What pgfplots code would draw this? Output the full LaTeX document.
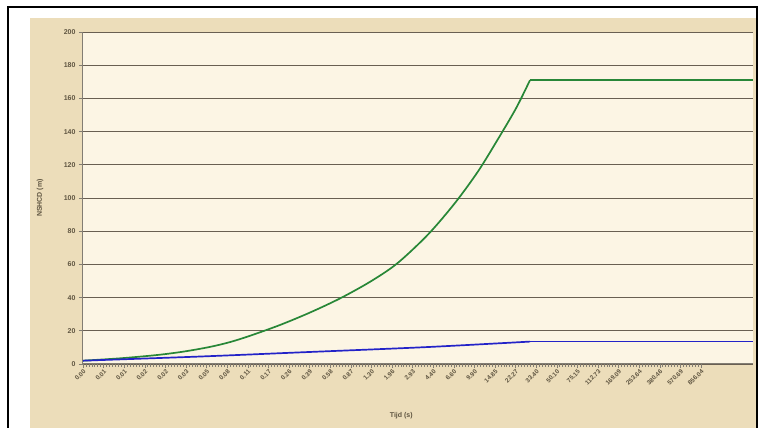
\documentclass[border=0pt]{standalone}
\usepackage{pgfplots}
\pgfplotsset{compat=1.18}
\usepackage{fontspec}
\setmainfont{Liberation Sans}

\definecolor{parch}{RGB}{236,221,186}
\definecolor{plotbg}{RGB}{252,245,228}
\definecolor{gridc}{RGB}{105,95,82}
\definecolor{axc}{RGB}{130,125,115}
\definecolor{txt}{RGB}{95,85,65}
\definecolor{grn}{RGB}{40,135,55}
\definecolor{blu}{RGB}{35,35,200}

\begin{document}
\begin{tikzpicture}
\useasboundingbox (0,0) rectangle (764pt,428pt);
\fill[parch] (30pt,0) rectangle (756pt,410pt);
\draw[black, line width=1.5pt] (8pt,0) -- (8pt,421pt) -- (757pt,421pt) -- (757pt,0);

\begin{axis}[
  at={(83pt,64pt)}, anchor=south west,
  scale only axis,
  width=670pt, height=332pt,
  axis background/.style={fill=plotbg},
  axis lines*=left,
  axis line style={axc, line width=1pt},
  xmin=0, xmax=670, ymin=0, ymax=200,
  ytick={0,20,...,200},
  ymajorgrids,
  grid style={gridc, line width=0.9pt},
  xtick={0,20.6,...,620},
  xticklabels={0.00,0.01,0.01,0.02,0.02,0.03,0.05,0.08,0.11,0.17,0.26,0.39,0.58,0.87,1.30,1.96,2.93,4.40,6.60,9.90,14.85,22.27,33.40,50.10,75.15,112.73,169.09,253.64,380.46,570.69,856.04},
  minor x tick num=6,
  tick align=outside,
  major tick length=4pt,
  minor tick length=3pt,
  every tick/.style={axc, line width=0.6pt},
  tick label style={font=\fontsize{7}{8}\selectfont\bfseries, text=txt},
  x tick label style={rotate=45, anchor=north east, inner sep=0.5pt,
    font=\fontsize{6.3}{7}\selectfont\bfseries},
  /pgf/number format/assume math mode=true,
  xlabel={Tijd (s)},
  ylabel={NSHCD (m)},
  label style={font=\fontsize{7}{8}\selectfont\bfseries, text=txt},
  xlabel style={at={(axis description cs:0.475,-0.155)}, anchor=center},
  ylabel style={at={(axis description cs:-0.064,0.5)}, anchor=center},
]
\addplot[grn, line width=1.7pt, smooth, tension=0.5] table {
0 2
27 3
47 3.9
77 5.6
102 7.6
127 10.3
147 13.2
167 17
197 23.5
227 31
257 39.5
287 49.5
314 60.5
345 78
372 97
395 116
414 134.5
433 154
447 171
};
\addplot[grn, line width=1.7pt] table {
447 171
670 171
};
\addplot[blu, line width=1.7pt, smooth, tension=0.5] table {
0 2
117 4.5
217 7
337 10
417 12.5
447 13.5
};
\addplot[blu, line width=1.7pt] table {
447 13.5
670 13.5
};
\end{axis}
\end{tikzpicture}
\end{document}
